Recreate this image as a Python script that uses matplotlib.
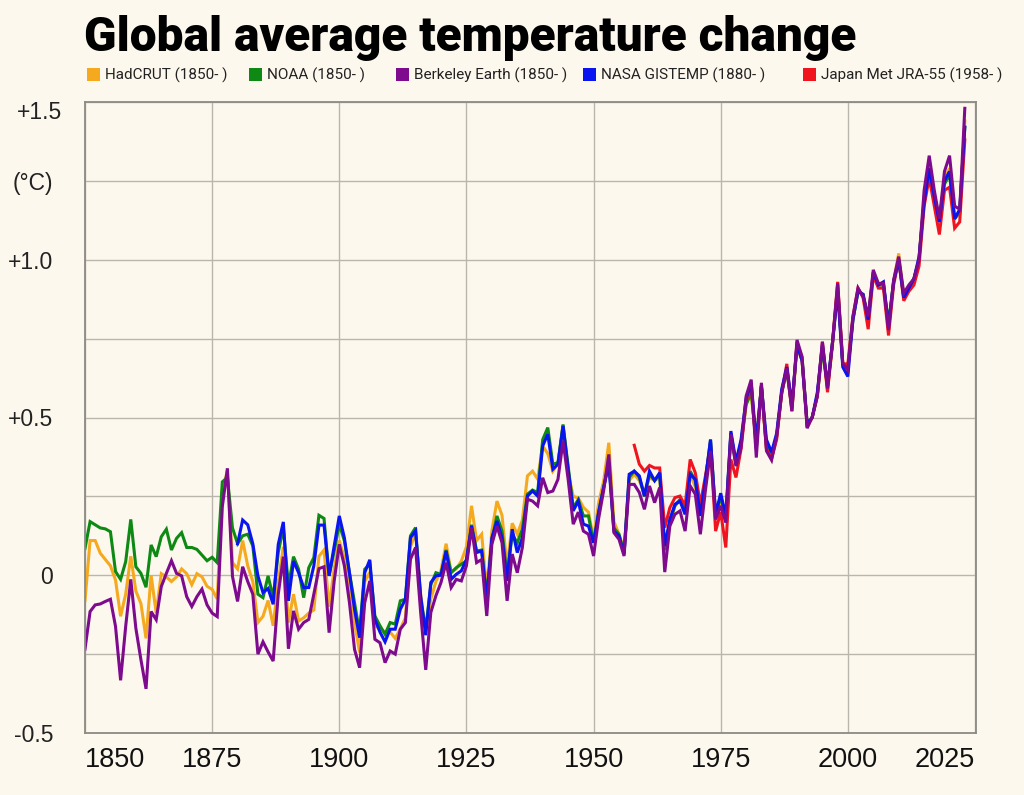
import numpy as np
import matplotlib.pyplot as plt
import matplotlib.patches as mpatches

# annual anomalies (°C)
hadcrut = [
    -0.08, 0.11, 0.11, 0.07, 0.05, 0.03, -0.015, -0.13, -0.06, 0.06,
    -0.05, -0.09, -0.20, 0.0, -0.12, 0.005, -0.005, -0.02, -0.005, 0.02,
    0.005, -0.03, 0.005, -0.005, -0.035, -0.045, -0.075, 0.27, 0.33, 0.04,
    0.02, 0.11, 0.03, -0.02, -0.15, -0.13, -0.08, -0.16, -0.02, 0.09,
    -0.15, -0.06, -0.145, -0.135, -0.12, -0.11, 0.06, 0.08, -0.10, 0.02,
    0.11, 0.055, -0.05, -0.15, -0.245, -0.02, 0.01, -0.16, -0.17, -0.18,
    -0.18, -0.20, -0.17, -0.135, 0.09, 0.135, -0.06, -0.18, -0.075, -0.02,
    0.015, 0.10, 0.01, 0.02, 0.045, 0.09, 0.22, 0.11, 0.13, -0.05,
    0.14, 0.235, 0.19, 0.025, 0.165, 0.13, 0.175, 0.315, 0.33, 0.305,
    0.41, 0.385, 0.33, 0.355, 0.475, 0.325, 0.25, 0.245, 0.215, 0.20,
    0.115, 0.23, 0.30, 0.42, 0.17, 0.13, 0.08, 0.30, 0.32, 0.30,
    0.26, 0.31, 0.30, 0.31, 0.07, 0.16, 0.22, 0.24, 0.20, 0.32,
    0.28, 0.20, 0.29, 0.42, 0.19, 0.24, 0.18, 0.44, 0.36, 0.42,
    0.55, 0.57, 0.42, 0.60, 0.40, 0.37, 0.44, 0.58, 0.65, 0.53,
    0.72, 0.68, 0.48, 0.50, 0.57, 0.72, 0.59, 0.73, 0.92, 0.67,
    0.65, 0.81, 0.90, 0.89, 0.82, 0.96, 0.92, 0.92, 0.78, 0.93,
    1.02, 0.88, 0.91, 0.94, 1.00, 1.20, 1.30, 1.20, 1.12, 1.26,
    1.29, 1.13, 1.15, 1.44,
]
noaa = [
    0.085, 0.17, 0.16, 0.15, 0.147, 0.138, 0.012, -0.013, 0.043, 0.177,
    0.027, 0.006, -0.038, 0.096, 0.059, 0.122, 0.146, 0.08, 0.117, 0.135,
    0.088, 0.088, 0.082, 0.064, 0.046, 0.057, 0.04, 0.296, 0.31, 0.15,
    0.10, 0.125, 0.13, 0.093, -0.06, -0.071, -0.002, -0.071, 0.072, 0.151,
    -0.034, 0.059, 0.019, -0.071, 0.024, 0.056, 0.19, 0.18, -0.002, 0.077,
    0.162, 0.109, 0.008, -0.087, -0.182, 0.019, 0.035, -0.129, -0.16, -0.187,
    -0.15, -0.155, -0.081, -0.076, 0.125, 0.151, -0.08, -0.17, -0.03, 0.008,
    0.003, 0.08, 0.008, 0.024, 0.035, 0.045, 0.16, 0.077, 0.08, -0.065,
    0.109, 0.188, 0.14, -0.002, 0.13, 0.103, 0.146, 0.257, 0.27, 0.262,
    0.43, 0.468, 0.352, 0.357, 0.478, 0.346, 0.214, 0.24, 0.188, 0.188,
    0.103, 0.20, 0.28, 0.36, 0.15, 0.13, 0.07, 0.31, 0.33, 0.31,
    0.25, 0.32, 0.30, 0.32, 0.08, 0.17, 0.22, 0.24, 0.20, 0.33,
    0.30, 0.19, 0.30, 0.43, 0.19, 0.25, 0.18, 0.45, 0.35, 0.42,
    0.54, 0.58, 0.42, 0.60, 0.41, 0.38, 0.44, 0.58, 0.65, 0.53,
    0.73, 0.69, 0.48, 0.50, 0.57, 0.72, 0.60, 0.74, 0.91, 0.67,
    0.66, 0.81, 0.90, 0.89, 0.81, 0.95, 0.92, 0.92, 0.80, 0.93,
    1.00, 0.88, 0.91, 0.94, 1.00, 1.19, 1.28, 1.20, 1.13, 1.24,
    1.27, 1.13, 1.15, 1.42,
]
berkeley = [
    -0.234, -0.115, -0.094, -0.091, -0.083, -0.076, -0.162, -0.333, -0.162, -0.013,
    -0.168, -0.268, -0.36, -0.115, -0.141, -0.036, 0.006, 0.046, 0.006, -0.002,
    -0.068, -0.099, -0.068, -0.044, -0.094, -0.12, -0.131, 0.217, 0.339, -0.004,
    -0.083, 0.027, -0.02, -0.06, -0.25, -0.211, -0.243, -0.272, -0.06, 0.059,
    -0.233, -0.113, -0.171, -0.15, -0.14, -0.06, 0.021, 0.027, -0.182, -0.018,
    0.098, 0.03, -0.087, -0.235, -0.293, -0.087, -0.018, -0.203, -0.214, -0.277,
    -0.24, -0.25, -0.171, -0.15, 0.051, 0.088, -0.118, -0.30, -0.118, -0.065,
    -0.023, 0.04, -0.039, -0.013, -0.018, 0.03, 0.151, 0.04, 0.05, -0.129,
    0.098, 0.156, 0.103, -0.081, 0.067, 0.008, 0.088, 0.241, 0.235, 0.22,
    0.309, 0.262, 0.267, 0.304, 0.426, 0.304, 0.162, 0.20, 0.14, 0.13,
    0.061, 0.18, 0.27, 0.383, 0.135, 0.114, 0.061, 0.288, 0.288, 0.262,
    0.209, 0.283, 0.23, 0.278, 0.01, 0.156, 0.193, 0.204, 0.14, 0.283,
    0.257, 0.13, 0.27, 0.394, 0.177, 0.22, 0.167, 0.447, 0.346, 0.404,
    0.568, 0.62, 0.373, 0.61, 0.394, 0.365, 0.44, 0.577, 0.656, 0.52,
    0.746, 0.693, 0.466, 0.503, 0.566, 0.74, 0.592, 0.74, 0.925, 0.672,
    0.65, 0.82, 0.91, 0.883, 0.82, 0.968, 0.925, 0.925, 0.777, 0.936,
    1.01, 0.894, 0.92, 0.94, 1.00, 1.22, 1.33, 1.22, 1.13, 1.28,
    1.33, 1.17, 1.16, 1.48,
]
gistemp = [
    0.10, 0.175, 0.16, 0.10, -0.002, -0.055, -0.042, -0.092, 0.098, 0.169,
    -0.081, 0.045, 0.008, -0.039, -0.039, 0.03, 0.159, 0.159, -0.002, 0.093,
    0.188, 0.119, 0.008, -0.108, -0.198, 0.008, 0.049, -0.14, -0.18, -0.211,
    -0.171, -0.171, -0.108, -0.076, 0.119, 0.141, -0.065, -0.19, -0.023, -0.002,
    0.0, 0.077, -0.013, 0.003, 0.014, 0.05, 0.156, 0.072, 0.077, -0.081,
    0.119, 0.172, 0.119, -0.018, 0.146, 0.072, 0.119, 0.251, 0.267, 0.251,
    0.41, 0.447, 0.336, 0.352, 0.473, 0.336, 0.204, 0.235, 0.162, 0.156,
    0.103, 0.20, 0.28, 0.352, 0.14, 0.125, 0.067, 0.32, 0.33, 0.315,
    0.251, 0.33, 0.30, 0.325, 0.093, 0.177, 0.225, 0.235, 0.193, 0.32,
    0.304, 0.188, 0.304, 0.43, 0.193, 0.26, 0.188, 0.457, 0.36, 0.43,
    0.56, 0.61, 0.42, 0.60, 0.43, 0.39, 0.45, 0.59, 0.66, 0.54,
    0.73, 0.68, 0.48, 0.50, 0.58, 0.73, 0.60, 0.74, 0.90, 0.66,
    0.63, 0.81, 0.90, 0.89, 0.81, 0.96, 0.92, 0.93, 0.79, 0.93,
    1.00, 0.88, 0.91, 0.94, 1.01, 1.18, 1.29, 1.20, 1.12, 1.25,
    1.28, 1.13, 1.16, 1.42,
]
jra55 = [
    0.412, 0.352, 0.33, 0.348, 0.34, 0.34, 0.151, 0.214, 0.246, 0.251,
    0.22, 0.367, 0.325, 0.225, 0.315, 0.41, 0.14, 0.20, 0.088, 0.367,
    0.31, 0.40, 0.55, 0.60, 0.40, 0.60, 0.40, 0.37, 0.43, 0.58,
    0.67, 0.52, 0.74, 0.68, 0.47, 0.50, 0.57, 0.74, 0.58, 0.74,
    0.93, 0.67, 0.67, 0.82, 0.91, 0.88, 0.78, 0.95, 0.91, 0.91,
    0.76, 0.92, 1.00, 0.87, 0.90, 0.92, 0.98, 1.17, 1.26, 1.17,
    1.08, 1.22, 1.23, 1.10, 1.12, 1.38,
]

names = ['HadCRUT (1850- )', 'NOAA (1850- )', 'Berkeley Earth (1850- )',
         'NASA GISTEMP (1880- )', 'Japan Met JRA-55 (1958- )']
starts = [1850, 1850, 1850, 1880, 1958]
values = [hadcrut, noaa, berkeley, gistemp, jra55]
colors = ['#F5A91E', '#0E8A14', '#7E0A8E', '#0A14F0', '#F0141E']
draw_order = [0, 1, 4, 3, 2]

bg = '#FDF8EE'
fig = plt.figure(figsize=(10.24, 7.95), dpi=100, facecolor=bg)
ax = fig.add_axes([85/1024, 1 - 733/795, 891/1024, 631/795])
ax.set_facecolor(bg)

for i in draw_order:
    yrs = np.arange(starts[i], starts[i] + len(values[i]))
    ax.plot(yrs, values[i], color=colors[i], lw=2.2, solid_joinstyle='miter')

ax.set_xlim(1850, 2025.2)
ax.set_ylim(-0.5, 1.5)

ax.set_xticks([1850, 1875, 1900, 1925, 1950, 1975, 2000, 2025])
ax.set_xticklabels(['1850', '1875', '1900', '1925', '1950', '1975', '2000', '2025'])
ax.set_yticks([-0.5, -0.25, 0, 0.25, 0.5, 0.75, 1.0, 1.25, 1.5])
ax.set_yticklabels(['-0.5', '', '0', '', '+0.5', '', '+1.0', '(°C)', ''])
ax.text(-0.026, 1.468, '+1.5', transform=ax.get_yaxis_transform(),
        ha='right', va='center', fontsize=16.5, family='Liberation Sans', color='#222222')

ax.tick_params(axis='x', length=0, pad=10, labelsize=19.5, labelcolor='#111111')
ax.tick_params(axis='y', length=0, pad=23, labelsize=16.5, labelcolor='#222222')
for lab in ax.get_xticklabels() + ax.get_yticklabels():
    lab.set_family('Liberation Sans')
xl = ax.get_xticklabels()
xl[0].set_ha('left')
xl[-1].set_ha('right')

ax.grid(True, color='#b9b6ae', lw=1.0)
ax.set_axisbelow(True)
for s in ax.spines.values():
    s.set_color('#8c8a85')
    s.set_linewidth(1.3)

fig.text(84/1024, 1 - 51/795, 'Global average temperature change',
         fontsize=34.5, fontweight='black', family='Roboto', color='black', va='baseline')

# legend row
sq_x = [87, 249, 396, 583, 803]
for i in range(5):
    fig.add_artist(mpatches.Rectangle((sq_x[i]/1024, 1 - 81/795), 13/1024, 13/795,
                                      transform=fig.transFigure, color=colors[i], lw=0))
    fig.text((sq_x[i] + 18)/1024, 1 - 75/795, names[i], fontsize=11,
             family=['Liberation Sans Narrow', 'Roboto'], color='#222222', va='center')

fig.savefig('out.png', dpi=100, facecolor=bg)
